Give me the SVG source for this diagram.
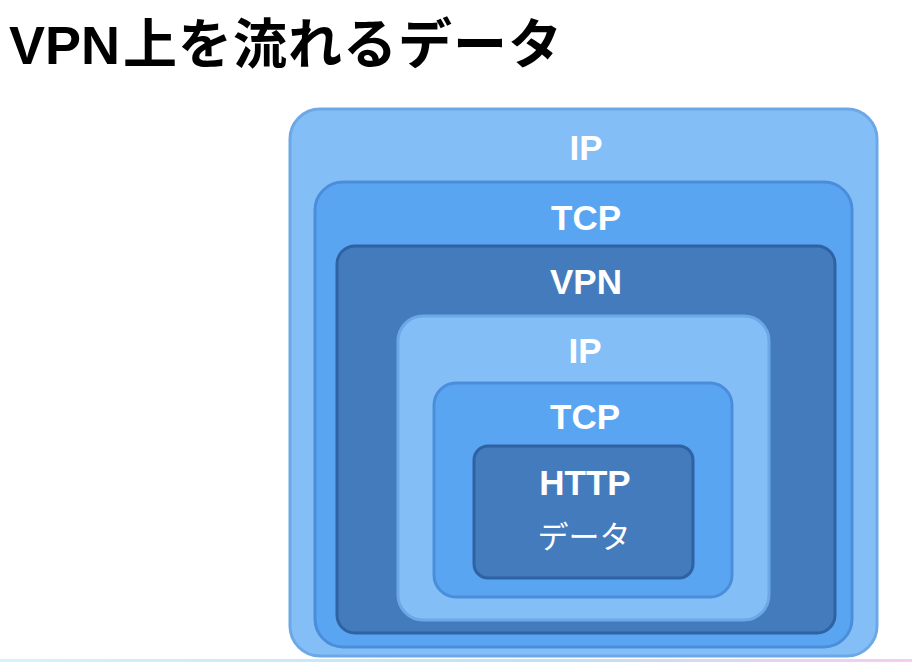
<svg xmlns="http://www.w3.org/2000/svg" width="912" height="662" viewBox="0 0 912 662">
  <style>
    .ip { fill: #84bef6; stroke: #6ca8e8; stroke-width: 3; }
    .tcp { fill: #5aa5f2; stroke: #4a8edb; stroke-width: 3; }
    .dark { fill: #437bbc; stroke: #2f62a2; stroke-width: 3; }
    .lbl { font-family: "Liberation Sans", Arial, "Noto Sans CJK JP", sans-serif; font-weight: bold; font-size: 35px; fill: #ffffff; text-anchor: middle; }
    .data { font-family: "Noto Sans CJK JP", "Noto Sans", sans-serif; font-size: 31px; fill: #ffffff; text-anchor: middle; }
    .title { font-family: "Liberation Sans", Arial, "Noto Sans CJK JP", sans-serif; font-weight: bold; fill: #000000; font-size: 54px; }
    .titlejp { font-family: "Noto Sans CJK JP", sans-serif; font-size: 54px; }
  </style>
  <defs>
    <linearGradient id="bar" x1="0" y1="0" x2="1" y2="0">
      <stop offset="0" stop-color="#d3f4fb"/>
      <stop offset="0.6" stop-color="#bfe0f8"/>
      <stop offset="1" stop-color="#f6cdee"/>
    </linearGradient>
  </defs>
  <rect width="912" height="662" fill="#ffffff"/>
  <g id="title">
    <text class="title" x="9" y="64">VPN<tspan class="titlejp" dx="3" letter-spacing="1">上を流れるデータ</tspan></text>
  </g>
  <g id="outer-ip">
    <rect class="ip" x="290" y="109" width="587" height="547" rx="30"/>
    <text class="lbl" x="586" y="160">IP</text>
  </g>
  <g id="outer-tcp">
    <rect class="tcp" x="315" y="182" width="537" height="465" rx="28"/>
    <text class="lbl" x="586" y="230">TCP</text>
  </g>
  <g id="vpn">
    <rect class="dark" x="337" y="246" width="498" height="387" rx="18"/>
    <text class="lbl" x="586" y="294">VPN</text>
  </g>
  <g id="inner-ip">
    <rect class="ip" x="398" y="316" width="371" height="304" rx="25"/>
    <text class="lbl" x="585" y="363">IP</text>
  </g>
  <g id="inner-tcp">
    <rect class="tcp" x="434" y="383" width="298" height="214" rx="22"/>
    <text class="lbl" x="585" y="429">TCP</text>
  </g>
  <g id="http">
    <rect class="dark" x="474" y="446" width="219" height="132" rx="14"/>
    <text class="lbl" x="585" y="495">HTTP</text>
    <text class="data" x="584" y="548">データ</text>
  </g>
  <g id="connectors"/>
  <rect x="0" y="659" width="912" height="3" fill="url(#bar)"/>
</svg>
